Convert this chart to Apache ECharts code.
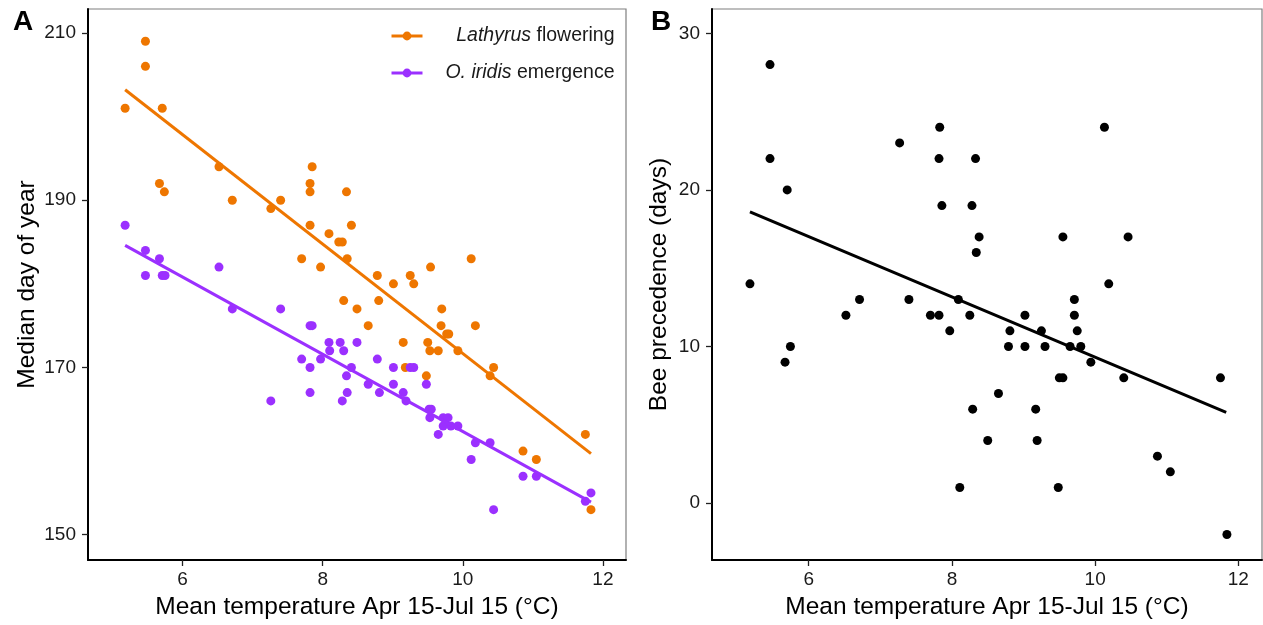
<!DOCTYPE html>
<html>
<head>
<meta charset="utf-8">
<script src="https://cdn.jsdelivr.net/npm/echarts@6/dist/echarts.min.js"></script>
<style>html,body{margin:0;padding:0;background:#fff}#c{width:1263px;height:625px}</style>
</head>
<body>
<div id="c"></div>
<script>
// ---- Data ----
const tempLathyrus = [5.18,5.47,5.47,5.67,5.71,5.74,6.52,6.71,7.26,7.40,7.70,7.82,7.82,7.82,7.85,7.97,8.09,8.23,8.28,8.30,8.34,8.35,8.41,8.49,8.65,8.78,8.80,9.01,9.15,9.18,9.25,9.30,9.48,9.50,9.53,9.54,9.65,9.69,9.70,9.77,9.80,9.93,10.12,10.18,10.39,10.44,10.86,11.05,11.75,11.83];
const dayLathyrus  = [201,209,206,192,201,191,194,190,189,190,183,192,187,191,194,182,186,185,185,178,191,183,187,177,175,181,178,180,173,170,181,180,169,173,172,182,172,175,177,174,174,172,183,175,169,170,160,159,162,153];
const tempOsmia = [5.18,5.47,5.47,5.67,5.71,5.75,6.52,6.71,7.26,7.40,7.70,7.82,7.85,7.82,7.82,7.97,8.09,8.10,8.25,8.28,8.30,8.34,8.35,8.41,8.49,8.65,8.78,8.81,9.01,9.01,9.15,9.19,9.25,9.30,9.48,9.52,9.55,9.53,9.65,9.72,9.79,9.72,9.83,9.93,10.12,10.18,10.39,10.44,10.86,11.05,11.75,11.83];
const dayOsmia  = [187,184,181,183,181,181,182,177,166,177,171,175,175,170,167,171,173,172,173,166,172,169,167,170,173,168,171,167,170,168,167,166,170,170,168,165,165,164,162,164,164,163,163,163,159,161,161,153,157,157,154,155];
const tempBee = [5.18,5.46,5.46,5.67,5.70,5.745,6.52,6.71,7.27,7.40,7.70,7.82,7.83,7.82,7.86,7.97,8.09,8.11,8.25,8.28,8.29,8.33,8.34,8.38,8.50,8.65,8.79,8.81,9.02,9.02,9.17,9.19,9.25,9.30,9.485,9.50,9.55,9.55,9.65,9.71,9.71,9.75,9.80,9.94,10.13,10.19,10.40,10.46,10.87,11.05,11.75,11.84];
const precedence = [14,28,22,9,20,10,12,13,23,13,12,12,24,22,19,11,13,1,12,19,6,22,16,17,4,7,10,11,12,10,6,4,11,10,1,8,8,17,10,13,12,11,10,9,24,14,8,17,3,2,8,-2];
// fitted regression lines (end points)
const fitLathyrus = [[5.18,203.2],[11.83,159.7]];
const fitOsmia    = [[5.18,184.6],[11.83,153.9]];
const fitBee      = [[5.18,18.6],[11.83,5.8]];
const xTicks = [6,8,10,12];
const yTicksA = [150,170,190,210];
const yTicksB = [0,10,20,30];

const ORANGE = '#EE7600', PURPLE = '#9B30FF';
const FONT = '"Liberation Sans", Arial, sans-serif';
const zip = (a,b) => a.map((v,i)=>[v,b[i]]);

function xAxis(gi){
  return {
    type:'value', gridIndex:gi, min:4.65, max:12.33,
    name:'Mean temperature Apr 15-Jul 15 (°C)', nameLocation:'middle', nameGap:35,
    nameTextStyle:{fontFamily:FONT,fontSize:24.5,color:'#000'},
    axisLine:{show:true,onZero:false,lineStyle:{color:'#000',width:2}},
    axisTick:{show:true,length:6,customValues:xTicks,lineStyle:{color:'#222',width:1.3}},
    axisLabel:{customValues:xTicks,fontFamily:FONT,fontSize:19,color:'#1a1a1a',margin:10},
    splitLine:{show:false}
  };
}
function yAxis(gi,min,max,ticks,name,gap){
  return {
    type:'value', gridIndex:gi, min:min, max:max,
    name:name, nameLocation:'middle', nameGap:gap,
    nameTextStyle:{fontFamily:FONT,fontSize:24.5,color:'#000'},
    axisLine:{show:true,onZero:false,lineStyle:{color:'#000',width:2}},
    axisTick:{show:true,length:6,customValues:ticks,lineStyle:{color:'#222',width:1.3}},
    axisLabel:{customValues:ticks,fontFamily:FONT,fontSize:19,color:'#1a1a1a',margin:12},
    splitLine:{show:false}
  };
}

const chart = echarts.init(document.getElementById('c'));
chart.setOption({
  animation:false,
  backgroundColor:'#fff',
  title:[
    {text:'A',left:8,top:3,textStyle:{fontFamily:FONT,fontSize:28,fontWeight:'bold',color:'#000'}},
    {text:'B',left:646,top:3,textStyle:{fontFamily:FONT,fontSize:28,fontWeight:'bold',color:'#000'}}
  ],
  grid:[
    {left:88,right:637,top:9,bottom:64,show:true,borderColor:'#7f7f7f',borderWidth:1.2,backgroundColor:'transparent'},
    {left:712,right:1,top:9,bottom:64,show:true,borderColor:'#7f7f7f',borderWidth:1.2,backgroundColor:'transparent'}
  ],
  xAxis:[xAxis(0),xAxis(1)],
  yAxis:[
    yAxis(0,146.98,212.86,yTicksA,'Median day of year',48),
    yAxis(1,-3.63,31.55,yTicksB,'Bee precedence (days)',40)
  ],
  legend:{
    orient:'vertical', left:385, top:21, itemWidth:31, itemHeight:11, itemGap:17,
    data:['Lathyrus flowering','O. iridis emergence'],
    lineStyle:{width:3},
    formatter:function(n){
      return n==='Lathyrus flowering' ? '{i|Lathyrus}{n| flowering}' : '{i|O. iridis}{n| emergence}';
    },
    textStyle:{fontFamily:FONT,fontSize:19.5,color:'#1a1a1a',width:187,
      rich:{i:{fontStyle:'italic',fontFamily:FONT,fontSize:19.5,align:'right',color:'#1a1a1a'},
            n:{fontFamily:FONT,fontSize:19.5,align:'right',color:'#1a1a1a'}}}
  },
  series:[
    {type:'scatter',xAxisIndex:0,yAxisIndex:0,data:zip(tempLathyrus,dayLathyrus),symbol:'circle',symbolSize:9,itemStyle:{color:ORANGE,opacity:1},z:2},
    {type:'scatter',xAxisIndex:0,yAxisIndex:0,data:zip(tempOsmia,dayOsmia),symbol:'circle',symbolSize:9,itemStyle:{color:PURPLE,opacity:1},z:3},
    {name:'Lathyrus flowering',type:'line',xAxisIndex:0,yAxisIndex:0,data:fitLathyrus,symbol:'circle',showSymbol:false,lineStyle:{color:ORANGE,width:3},itemStyle:{color:ORANGE},z:4},
    {name:'O. iridis emergence',type:'line',xAxisIndex:0,yAxisIndex:0,data:fitOsmia,symbol:'circle',showSymbol:false,lineStyle:{color:PURPLE,width:3},itemStyle:{color:PURPLE},z:4},
    {type:'scatter',xAxisIndex:1,yAxisIndex:1,data:zip(tempBee,precedence),symbol:'circle',symbolSize:9,itemStyle:{color:'#000',opacity:1},z:2},
    {type:'line',xAxisIndex:1,yAxisIndex:1,data:fitBee,showSymbol:false,lineStyle:{color:'#000',width:3},z:4}
  ]
});
</script>
</body>
</html>
